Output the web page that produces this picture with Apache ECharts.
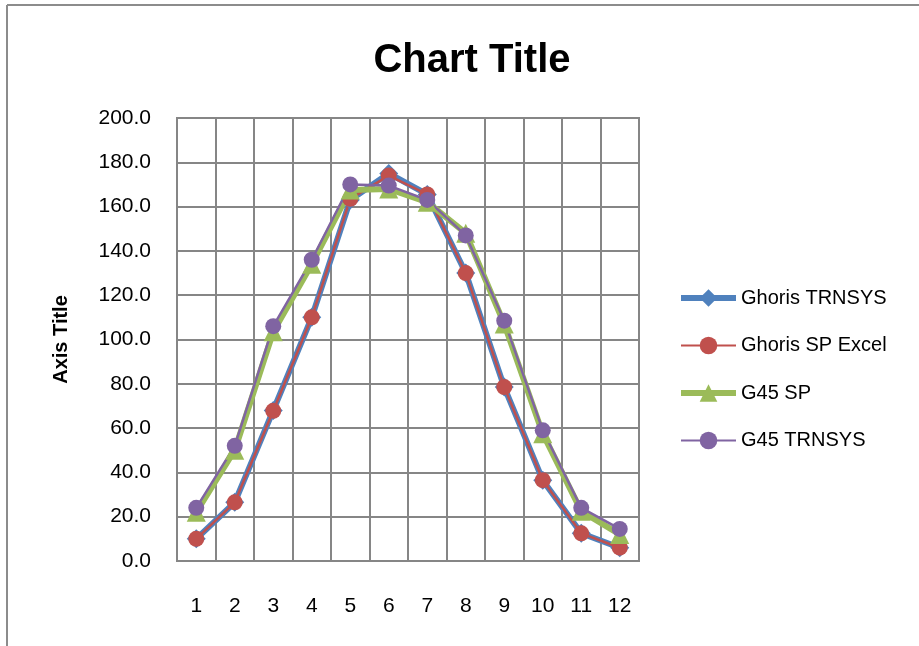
<!DOCTYPE html>
<html>
<head>
<meta charset="utf-8">
<script src="https://cdn.jsdelivr.net/npm/echarts@6/dist/echarts.min.js"></script>
<style>html,body{margin:0;padding:0;background:#fff;}#c{width:919px;height:646px;}</style>
</head>
<body>
<div id="c"></div>
<script>
var categories = ['1','2','3','4','5','6','7','8','9','10','11','12'];
var ghorisTrnsys = [10, 26.5, 68, 110, 163, 175, 165.5, 130, 78.5, 36.5, 12.5, 6];
var ghorisSpExcel = [10, 26.5, 67.8, 110, 163.5, 174, 165.5, 130, 78.5, 36.5, 12.5, 6];
var g45Sp = [22, 50, 103.5, 134, 167.5, 168, 162, 148, 107, 57.5, 22.5, 12];
var g45Trnsys = [24, 52, 106, 136, 170, 169.5, 163, 147, 108.5, 59, 24, 14.5];
var yTicks = { min: 0, max: 200, interval: 20 };

var font = 'Liberation Sans';
var chart = echarts.init(document.getElementById('c'), null, { renderer: 'canvas' });
chart.setOption({
  animation: false,
  backgroundColor: '#fff',
  title: {
    text: 'Chart Title', left: 467, top: 36, textAlign: 'center',
    textStyle: { fontFamily: font, fontSize: 40, fontWeight: 'bold', color: '#000' }
  },
  graphic: [
    { type: 'line', shape: { x1: 7, y1: 5, x2: 919, y2: 5 }, style: { stroke: '#8c8c8c', lineWidth: 2 } },
    { type: 'line', shape: { x1: 7, y1: 5, x2: 7, y2: 646 }, style: { stroke: '#8c8c8c', lineWidth: 2 } }
  ],
  legend: {
    orient: 'vertical', left: 673, top: 283,
    itemWidth: 55, itemHeight: 22, itemGap: 27.5,
    textStyle: { fontFamily: font, fontSize: 20, color: '#000' },
    data: [
      { name: 'Ghoris TRNSYS', lineStyle: { width: 6 } },
      { name: 'Ghoris SP Excel', lineStyle: { width: 2 } },
      { name: 'G45 SP', lineStyle: { width: 6 } },
      { name: 'G45 TRNSYS', lineStyle: { width: 2 } }
    ]
  },
  grid: { left: 177, top: 118, width: 462, height: 443, show: true, borderColor: '#868686', borderWidth: 2 },
  xAxis: {
    type: 'category', data: categories, boundaryGap: true,
    axisLine: { lineStyle: { color: '#868686', width: 2 } },
    axisTick: { show: false },
    axisLabel: { fontFamily: font, fontSize: 21, color: '#000', margin: 35 },
    splitLine: { show: true, lineStyle: { color: '#868686', width: 2 } }
  },
  yAxis: {
    type: 'value', min: yTicks.min, max: yTicks.max, interval: yTicks.interval,
    name: 'Axis Title', nameLocation: 'middle', nameGap: 106, nameRotate: 90,
    nameTextStyle: { fontFamily: font, fontSize: 20, fontWeight: 'bold', color: '#000' },
    axisLine: { show: true, lineStyle: { color: '#868686', width: 2 } },
    axisTick: { show: false },
    axisLabel: { fontFamily: font, fontSize: 21, color: '#000', margin: 26, formatter: function (v) { return v.toFixed(1); } },
    splitLine: { show: true, lineStyle: { color: '#868686', width: 2 } }
  },
  series: [
    { name: 'Ghoris TRNSYS', type: 'line', data: ghorisTrnsys, symbol: 'diamond', symbolSize: 19,
      lineStyle: { color: '#4F81BD', width: 6 }, itemStyle: { color: '#4F81BD' } },
    { name: 'Ghoris SP Excel', type: 'line', data: ghorisSpExcel, symbol: 'circle', symbolSize: 16,
      lineStyle: { color: '#C0504D', width: 2.5 }, itemStyle: { color: '#C0504D' } },
    { name: 'G45 SP', type: 'line', data: g45Sp, symbol: 'triangle', symbolSize: 19,
      lineStyle: { color: '#9BBB59', width: 6 }, itemStyle: { color: '#9BBB59' } },
    { name: 'G45 TRNSYS', type: 'line', data: g45Trnsys, symbol: 'circle', symbolSize: 16,
      lineStyle: { color: '#8064A2', width: 2.5 }, itemStyle: { color: '#8064A2' } }
  ]
});
</script>
</body>
</html>
